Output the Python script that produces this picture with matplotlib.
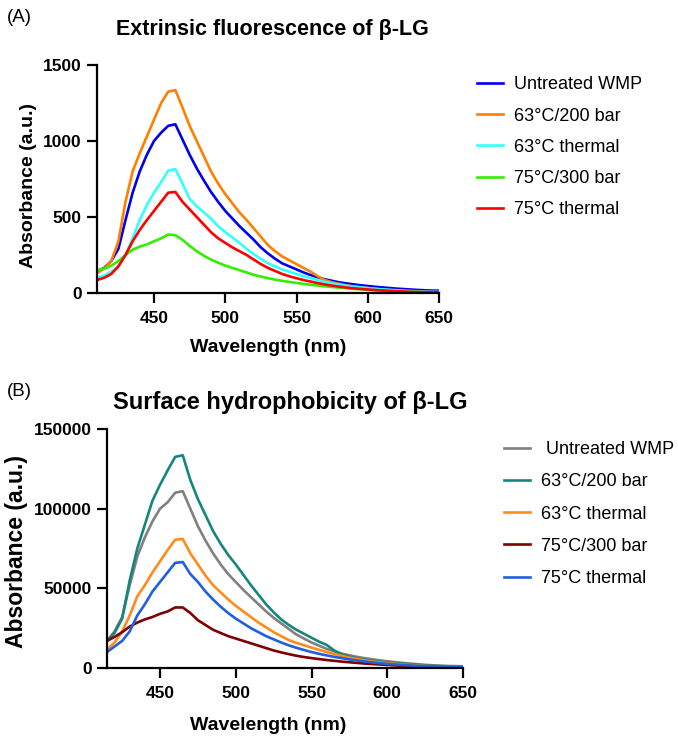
import numpy as np
import matplotlib
matplotlib.use("Agg")
import matplotlib.pyplot as plt

plt.rcParams['font.family'] = ['Liberation Sans', 'DejaVu Sans']

# ---------------- data ----------------
wl_a = list(range(410, 655, 5))
a_untreated = [140, 165, 210, 290, 480, 660, 800, 910, 1000, 1055, 1100, 1110, 1010, 910, 820, 740,
               665, 600, 540, 490, 440, 395, 350, 300, 260, 225, 195, 175, 155, 135, 118, 103, 90,
               80, 70, 63, 57, 51, 46, 41, 37, 33, 29, 26, 23, 20, 18, 16, 15]
a_63p = [130, 160, 210, 340, 600, 800, 920, 1030, 1140, 1250, 1325, 1335, 1220, 1100, 1000, 900,
         800, 720, 650, 590, 530, 480, 425, 370, 315, 275, 240, 215, 190, 165, 140, 110, 85,
         70, 60, 50, 43, 37, 32, 27, 23, 19, 16, 13, 10, 8, 6, 5, 5]
a_63t = [100, 115, 140, 175, 250, 360, 480, 580, 660, 730, 805, 815, 720, 620, 570, 530,
         490, 440, 400, 365, 330, 290, 255, 225, 195, 175, 155, 140, 125, 110, 97, 85, 73,
         63, 55, 48, 42, 37, 32, 28, 24, 21, 18, 15, 13, 11, 9, 8, 7]
a_75p = [150, 160, 180, 210, 250, 285, 305, 320, 340, 360, 385, 380, 350, 310, 275, 245,
         220, 200, 180, 165, 150, 135, 120, 108, 97, 88, 80, 73, 66, 60, 54, 49, 44,
         39, 35, 31, 27, 24, 21, 18, 15, 13, 11, 9, 7, 6, 5, 4, 3]
a_75t = [85, 100, 125, 175, 250, 340, 415, 480, 540, 600, 660, 665, 600, 550, 500, 450,
         400, 360, 330, 300, 275, 250, 220, 190, 165, 145, 125, 110, 97, 85, 75, 65, 56,
         48, 42, 36, 31, 27, 23, 20, 17, 14, 12, 10, 8, 7, 6, 5, 5]

wl_b = list(range(415, 655, 5))
b_untreated = [17000, 23000, 32000, 52000, 70000, 82000, 92000, 100000, 104000, 110000, 111000,
               100000, 89000, 80000, 72000, 65000, 59000, 54000, 49000, 44500, 40000, 35500,
               31500, 28000, 24500, 21000, 18500, 16000, 14000, 12000, 10500, 9000, 8000, 7000,
               6200, 5500, 4800, 4200, 3700, 3200, 2800, 2400, 2000, 1700, 1500, 1300, 1200, 1100]
b_63p = [17000, 22000, 31000, 55000, 75000, 90000, 105000, 115000, 124000, 132500, 133500,
         118000, 106000, 96000, 86000, 78000, 71000, 65000, 58500, 52000, 46000, 40000,
         35000, 30500, 27000, 24000, 21500, 19000, 16500, 14500, 11000, 8500, 7000, 6000,
         5200, 4600, 4000, 3500, 3000, 2600, 2200, 1900, 1600, 1300, 1100, 1000, 900, 800]
b_63t = [11500, 16000, 23000, 33000, 45000, 52000, 60000, 67000, 74000, 80500, 81000,
         72000, 65000, 58000, 52000, 47500, 43000, 39000, 35500, 32000, 28500, 25500,
         22500, 20000, 17500, 15800, 14300, 12800, 11400, 10000, 8800, 7600, 6500, 5600,
         4800, 4100, 3500, 3000, 2600, 2200, 1800, 1500, 1200, 1000, 800, 700, 600, 500]
b_75p = [17000, 19500, 22500, 26000, 28500, 30500, 32000, 34000, 35500, 38000, 38000,
         34500, 30000, 27000, 24000, 22000, 20000, 18500, 17000, 15500, 14000, 12500,
         11000, 9800, 8700, 7700, 6900, 6200, 5600, 5000, 4500, 4000, 3600, 3200,
         2800, 2500, 2200, 1900, 1600, 1400, 1200, 1000, 800, 700, 600, 500, 400, 300]
b_75t = [10000, 13500, 17000, 23000, 33000, 40000, 48000, 54000, 60000, 66000, 66500,
         59000, 54000, 48000, 43000, 38500, 34500, 31000, 28000, 25000, 22500, 20000,
         18000, 16000, 14200, 12700, 11300, 10000, 8900, 7900, 7000, 6200, 5400, 4700,
         4100, 3500, 3000, 2600, 2200, 1900, 1600, 1300, 1100, 900, 800, 700, 600, 500]

labels_a = ["Untreated WMP", "63°C/200 bar", "63°C thermal", "75°C/300 bar", "75°C thermal"]
labels_b = [" Untreated WMP", "63°C/200 bar", "63°C thermal", "75°C/300 bar", "75°C thermal"]
colors_a = ["#0000ee", "#ff8000", "#33ffff", "#33ee00", "#ff0000"]
colors_b = ["#808080", "#13877d", "#ff8c1a", "#7f0000", "#1f5fe0"]

W, H = 678, 736
fig = plt.figure(figsize=(W / 100, H / 100), dpi=100)

def px_axes(l, t, r, b):
    return fig.add_axes([l / W, 1 - b / H, (r - l) / W, (b - t) / H])

def style(ax):
    for s in ['top', 'right']:
        ax.spines[s].set_visible(False)
    for s in ['left', 'bottom']:
        ax.spines[s].set_linewidth(1.6)
    ax.tick_params(direction='out', length=7, width=1.6, labelsize=12.5)
    ax.tick_params(axis='x', pad=6)
    ax.tick_params(axis='y', pad=4)
    for lab in ax.get_xticklabels() + ax.get_yticklabels():
        lab.set_fontweight('bold')

# ---------- Panel A ----------
axa = px_axes(97, 65, 439, 293)
series_a = [a_untreated, a_63p, a_63t, a_75p, a_75t]
lines_a = []
for ys, c, lb in zip(series_a, colors_a, labels_a):
    ln, = axa.plot(wl_a, ys, color=c, lw=1.9, label=lb)
    lines_a.append(ln)
axa.set_xlim(410, 650)
axa.set_ylim(0, 1500)
axa.set_xticks([450, 500, 550, 600, 650])
axa.set_yticks([0, 500, 1000, 1500])
style(axa)
axa.legend(handles=lines_a, loc='upper left', bbox_to_anchor=(461 / W, 1 - 60 / H),
           bbox_transform=fig.transFigure, frameon=False, fontsize=13,
           handlelength=1.45, handletextpad=0.6, labelspacing=0.79)

fig.text(7 / W, 1 - 17 / H, "(A)", fontsize=13.5, va='center', ha='left')
fig.text(272 / W, 1 - 29 / H, "Extrinsic fluorescence of β-LG", fontsize=15.5,
         fontweight='bold', ha='center', va='center')
fig.text(268 / W, 1 - 348 / H, "Wavelength (nm)", fontsize=14, fontweight='bold',
         ha='center', va='center')
fig.text(29 / W, 1 - 185 / H, "Absorbance (a.u.)", fontsize=14, fontweight='bold',
         ha='center', va='center', rotation=90)

# ---------- Panel B ----------
axb = px_axes(107, 429, 463, 668)
series_b = [b_untreated, b_63p, b_63t, b_75p, b_75t]
lines_b = []
for ys, c, lb in zip(series_b, colors_b, labels_b):
    ln, = axb.plot(wl_b, ys, color=c, lw=1.9, label=lb)
    lines_b.append(ln)
axb.set_xlim(415, 650)
axb.set_ylim(0, 150000)
axb.set_xticks([450, 500, 550, 600, 650])
axb.set_yticks([0, 50000, 100000, 150000])
style(axb)
axb.legend(handles=lines_b, loc='upper left', bbox_to_anchor=(488 / W, 1 - 425 / H),
           bbox_transform=fig.transFigure, frameon=False, fontsize=13,
           handlelength=1.45, handletextpad=0.6, labelspacing=0.84)

fig.text(7 / W, 1 - 392 / H, "(B)", fontsize=13.5, va='center', ha='left')
fig.text(290 / W, 1 - 403 / H, "Surface hydrophobicity of β-LG", fontsize=17,
         fontweight='bold', ha='center', va='center')
fig.text(268 / W, 1 - 725 / H, "Wavelength (nm)", fontsize=14, fontweight='bold',
         ha='center', va='center')
fig.text(17 / W, 1 - 552 / H, "Absorbance (a.u.)", fontsize=16.5, fontweight='bold',
         ha='center', va='center', rotation=90)

fig.savefig("out.png", dpi=100)
